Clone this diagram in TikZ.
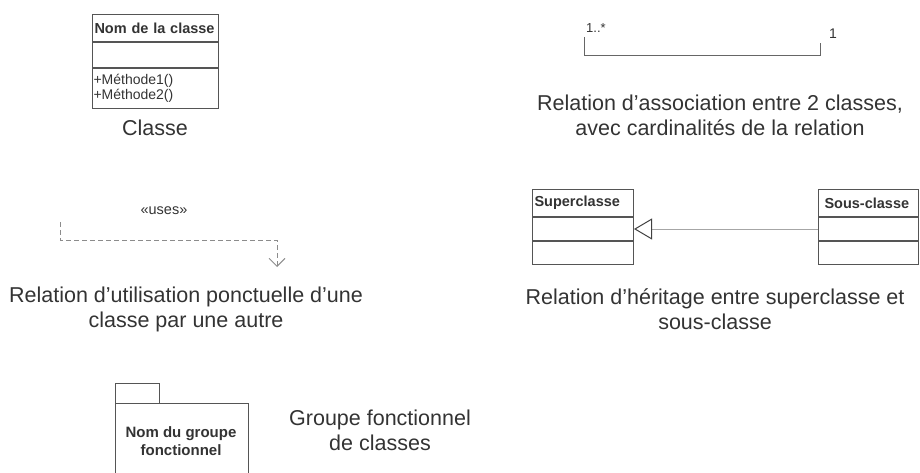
\documentclass[tikz,border=0pt]{standalone}
\usepackage{fontspec}
\setmainfont{Liberation Sans}
\usepackage{xcolor}
\usetikzlibrary{arrows.meta,positioning}
\definecolor{ink}{HTML}{333333}
\definecolor{edge}{HTML}{555555}

\begin{document}
\begin{tikzpicture}[x=1pt,y=-1pt,
  every node/.style={text=ink,inner sep=0pt},
  lbl/.style={font=\fontsize{21.5}{25}\selectfont,align=center},
  hd/.style={draw=edge,line width=1pt,font=\fontsize{14.5}{16}\selectfont\bfseries,anchor=north west,align=left,inner xsep=2pt},
  cmp/.style={draw=edge,line width=1pt,anchor=north},
  e/.style={draw=black!60,line width=0.8pt}]
 \useasboundingbox (0,0) rectangle (920,473);
 % classe
 \node[hd,minimum width=126,minimum height=27,text width=122] (cls) at (92,14) {Nom de la classe};
 \node[cmp,minimum width=126,minimum height=25] (cls2) at (cls.south) {};
 \node[cmp,minimum width=126,minimum height=40,text width=124,align=left,font=\fontsize{14}{15.5}\selectfont] (cls3) at (cls2.south) {+Méthode1()\\+Méthode2()};
 \node[lbl] (tcls) at (155,128) {Classe};
 % association
 \coordinate (a1) at (584,37);
 \coordinate (a2) at (820,43);
 \draw[e] (a1) -- (a1 |- 0,55) -- (a2 |- 0,55) -- (a2);
 \node[font=\fontsize{13}{15}\selectfont,anchor=south west] (m1) at (586,33) {1..*};
 \node[font=\fontsize{14}{15}\selectfont,anchor=south west] (m2) at (829,39) {1};
 \node[lbl] (tass) at (720,115) {Relation d’association entre 2 classes,\\avec cardinalités de la relation};
 % utilisation
 \node[font=\fontsize{14.5}{16}\selectfont] (uses) at (164,211) {«uses»};
 \coordinate (u1) at (60,222);
 \coordinate (u2) at (277,267);
 \draw[black!45,line width=0.9pt,dash pattern=on 5pt off 3pt,-{Straight Barb[length=8,width=16]}] (u1) -- (u1 |- 0,240) -| (u2);
 \node[lbl] (tuse) at (186,309) {Relation d’utilisation ponctuelle d’une\\classe par une autre};
 % heritage
 \node[hd,minimum width=101,minimum height=27,text width=97] (sup) at (532,189) {Superclasse};
 \node[cmp,minimum width=101,minimum height=23] (sup2) at (sup.south) {};
 \node[cmp,minimum width=101,minimum height=23] (sup3) at (sup2.south) {};
 \node[hd,minimum width=100,minimum height=27,text width=88,inner xsep=6pt] (sub) at (818,189) {Sous-classe};
 \node[cmp,minimum width=100,minimum height=23] (sub2) at (sub.south) {};
 \node[cmp,minimum width=100,minimum height=23] (sub3) at (sub2.south) {};
 \draw[black!35,line width=0.8pt,-{Triangle[open,length=18,width=21,line width=1pt,color=black!75]}] (sub2.west) -- (sup2.east);
 \node[lbl] (ther) at (715,309) {Relation d’héritage entre superclasse et\\sous-classe};
 % groupe fonctionnel
 \draw[edge,line width=1pt] (115,403) |- (159,383) -- (159,403);
 \node[draw=edge,line width=1pt,anchor=north west,minimum width=133,minimum height=80] (grp) at (115,403) {};
 \node[align=center,font=\fontsize{15}{18}\selectfont\bfseries] (tgrpn) at (181,441) {Nom du groupe\\fonctionnel};
 \node[lbl] (tgrp) at (380,430) {Groupe fonctionnel\\de classes};
\end{tikzpicture}
\end{document}
